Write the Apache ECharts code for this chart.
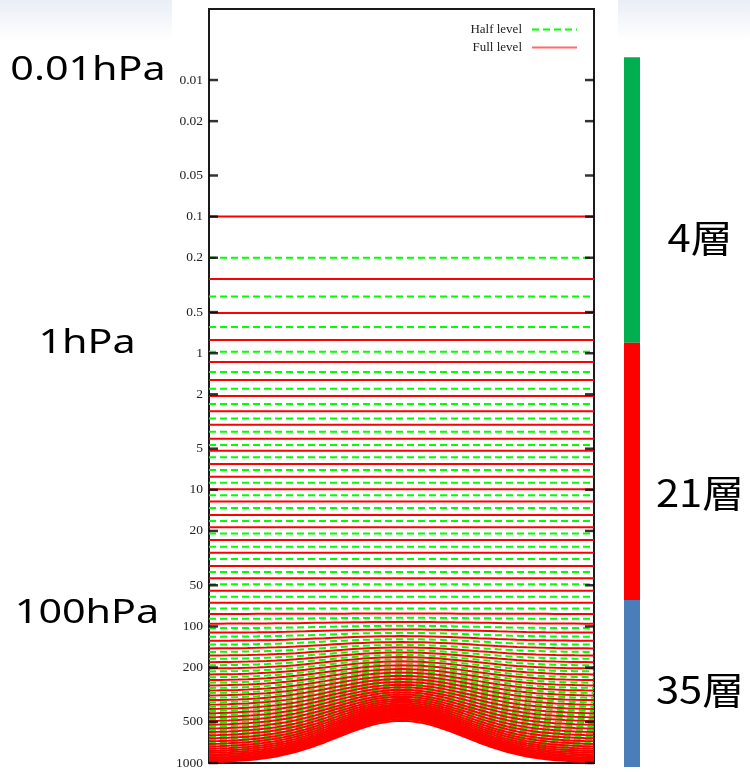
<!DOCTYPE html>
<html>
<head>
<meta charset="utf-8">
<script src="https://cdn.jsdelivr.net/npm/echarts@6/dist/echarts.min.js"></script>
<style>
  html, body { margin: 0; padding: 0; background: #ffffff; }
  #chart { width: 750px; height: 772px; }
</style>
</head>
<body>
<div id="chart"></div>
<script>
// ---------------- data ----------------
const tickValues = [0.01, 0.02, 0.05, 0.1, 0.2, 0.5, 1, 2, 5, 10, 20, 50, 100, 200, 500, 1000];
const tickLabels = ['0.01', '0.02', '0.05', '0.1', '0.2', '0.5', '1', '2', '5', '10', '20', '50', '100', '200', '500', '1000'];

// horizontal grid columns across the section and surface pressure (hPa) at each
const columnX = [0, 1, 2, 3, 4, 5, 6, 7, 8, 9, 10, 11, 12, 13, 14, 15, 16, 17, 18, 19, 20,
                 21, 22, 23, 24, 25, 26, 27, 28, 29, 30, 31, 32, 33, 34, 35, 36, 37, 38, 39, 40];
const surfacePressure = [995, 990, 984, 975, 964, 949, 929, 905, 875, 841, 802, 760, 717, 673, 632, 594, 561, 535, 516, 504, 500,
                         504, 516, 535, 561, 594, 632, 673, 717, 760, 802, 841, 875, 905, 929, 949, 964, 975, 984, 990, 995];
const referenceSurface = 1000;

// full levels: pressure (hPa) where surface = 1000 hPa, and hybrid B coefficient
const fullLevelP = [0.1, 0.286, 0.508, 0.80, 1.16, 1.57, 2.06, 2.66, 3.34, 4.22, 5.17, 6.47, 8.02, 9.92, 12.2, 15.3, 18.8, 23.3, 28.9, 36.1, 44.5, 54.8, 67, 81,
  95.5, 111, 127.5, 145, 163.5, 183, 203.5, 225, 247.5, 271, 295.5, 321, 347.5, 375, 403.5, 433, 463.5, 495, 527.5, 561, 595, 629, 663, 696.5, 729, 760.5, 791, 820, 847, 872, 895.5, 917.5, 937.5, 955.5, 971.5, 989.5];
const fullLevelB = [0, 0, 0, 0, 0, 0, 0, 0, 0, 0, 0, 0, 0, 0, 0, 0, 0, 0, 0, 0, 0, 0, 0, 0.001,
  0.0055, 0.0115, 0.0195, 0.0295, 0.0415, 0.0555, 0.0715, 0.0895, 0.1095, 0.1315, 0.1555, 0.1815, 0.2095, 0.24, 0.273, 0.308, 0.345, 0.384, 0.425, 0.468, 0.5125, 0.558, 0.604, 0.65, 0.6955, 0.74, 0.783, 0.8235, 0.8605, 0.8935, 0.9225, 0.947, 0.9665, 0.9815, 0.992, 0.998];

// half levels
const halfLevelP = [0.2, 0.385, 0.643, 0.975, 1.37, 1.82, 2.35, 3.0, 3.76, 4.7, 5.78, 7.16, 8.87, 10.97, 13.6, 16.9, 20.9, 26.1, 32.1, 40, 49.2, 60.6, 74.1,
  88, 103, 119, 136, 154, 173, 193, 214, 236, 259, 283, 308, 334, 361, 389, 418, 448, 479, 511, 544, 578, 612, 646, 680, 713, 745, 776, 806, 834, 860, 884, 907, 928, 947, 964, 979];
const halfLevelB = [0, 0, 0, 0, 0, 0, 0, 0, 0, 0, 0, 0, 0, 0, 0, 0, 0, 0, 0, 0, 0, 0, 0,
  0.003, 0.008, 0.015, 0.024, 0.035, 0.048, 0.063, 0.080, 0.099, 0.120, 0.143, 0.168, 0.195, 0.224, 0.256, 0.290, 0.326, 0.364, 0.404, 0.446, 0.490, 0.535, 0.581, 0.627, 0.673, 0.718, 0.762, 0.804, 0.843, 0.878, 0.909, 0.936, 0.958, 0.975, 0.988, 0.996];

// side annotation: layer block boundaries (hPa) and their layer counts
const layerBounds = [0.0068, 0.84, 64, 1072];
const layerNames = ['4層', '21層', '35層'];
const pressureNotes = ['0.01hPa', '1hPa', '100hPa'];

// ---------------- build ----------------
const lg = Math.log10;
function levelLine(p, b) {
  return columnX.map((x, i) => [x, lg(p - b * (referenceSurface - surfacePressure[i]))]);
}

const series = [];
halfLevelP.forEach((p, k) => {
  series.push({
    type: 'line', name: 'Half level', xAxisIndex: 0, yAxisIndex: 0,
    data: levelLine(p, halfLevelB[k]),
    symbol: 'none', showSymbol: false, silent: true, z: 2,
    lineStyle: { color: '#00ff00', width: 2, type: [7, 4] },
    itemStyle: { color: '#00ff00' }
  });
});
fullLevelP.forEach((p, k) => {
  series.push({
    type: 'line', name: 'Full level', xAxisIndex: 0, yAxisIndex: 0,
    data: levelLine(p, fullLevelB[k]),
    symbol: 'none', showSymbol: false, silent: true, z: 3,
    lineStyle: { color: '#ff0000', width: 2 },
    itemStyle: { color: '#ff0000' }
  });
});

const tickPos = tickValues.map(lg);
// axis tick marks on both sides of the frame, pointing inward
series.push({
  type: 'scatter', name: 'ticksL', xAxisIndex: 0, yAxisIndex: 0, silent: true, z: 4,
  data: tickPos.map(v => [columnX[0], v]),
  symbol: 'rect', symbolSize: [9, 2.5], symbolOffset: [4.5, 0],
  itemStyle: { color: '#000' }
});
series.push({
  type: 'scatter', name: 'ticksR', xAxisIndex: 0, yAxisIndex: 0, silent: true, z: 4,
  data: tickPos.map(v => [columnX[columnX.length - 1], v]),
  symbol: 'rect', symbolSize: [9, 2.5], symbolOffset: [-4.5, 0],
  itemStyle: { color: '#000' }
});

const layerColors = ['#00b050', '#ff0000', '#4a7ebb'];
series.push({
  type: 'custom', name: 'layers', xAxisIndex: 1, yAxisIndex: 1, silent: true,
  data: layerNames.map((n, i) => ({ name: n, value: [lg(layerBounds[i]), lg(layerBounds[i + 1])], itemStyle: { color: layerColors[i] } })),
  renderItem: function (params, api) {
    const y0 = api.coord([0, api.value(0)])[1];
    const y1 = api.coord([0, api.value(1)])[1];
    const cs = params.coordSys;
    return { type: 'rect', shape: { x: cs.x, y: y0, width: cs.width, height: y1 - y0 }, style: { fill: api.visual('color') } };
  }
});

const yMin = -2.52, yMax = 3;
function labelFor(v) {
  const i = tickPos.findIndex(t => Math.abs(t - v) < 1e-6);
  return i >= 0 ? tickLabels[i] : '';
}

const serif = 'Liberation Serif';
const hiddenSymbol = { color: 'rgba(0,0,0,0)', opacity: 0, borderWidth: 0 };
const option = {
  animation: false,
  backgroundColor: '#ffffff',
  grid: [
    { left: 209, right: 156, top: 9, bottom: 9, show: true, borderColor: '#1a1a1a', borderWidth: 2, backgroundColor: '#ffffff' },
    { left: 624, width: 16, top: 9, bottom: 9 }
  ],
  xAxis: [
    { type: 'value', gridIndex: 0, min: 0, max: 40, show: false },
    { type: 'value', gridIndex: 1, min: 0, max: 1, show: false }
  ],
  yAxis: [
    {
      type: 'value', gridIndex: 0, min: yMin, max: yMax, inverse: true, position: 'left',
      splitLine: { show: false }, axisLine: { show: false }, axisTick: { show: false },
      axisLabel: { show: true, customValues: tickPos, formatter: labelFor, margin: 6, fontFamily: serif, fontSize: 13.5, color: '#222' }
    },
    { type: 'value', gridIndex: 1, min: yMin, max: yMax, inverse: true, show: false }
  ],
  legend: {
    data: [
      { name: 'Half level', itemStyle: hiddenSymbol },
      { name: 'Full level', itemStyle: hiddenSymbol, lineStyle: { color: '#ff6a6a', width: 2 } }
    ],
    orient: 'vertical', right: 167, top: 18, align: 'right',
    itemWidth: 45, itemHeight: 12, itemGap: 5,
    selectedMode: false,
    itemStyle: hiddenSymbol,
    textStyle: { fontFamily: serif, fontSize: 13, color: '#222', padding: [0, 5, 0, 0] }
  },
  graphic: [
    { type: 'rect', left: 0, top: 0, z: -10, shape: { width: 172, height: 40 },
      style: { fill: new echarts.graphic.LinearGradient(0, 0, 0, 1, [{ offset: 0, color: '#e9eef6' }, { offset: 1, color: '#ffffff' }]) } },
    { type: 'rect', left: 618, top: 0, z: -10, shape: { width: 132, height: 40 },
      style: { fill: new echarts.graphic.LinearGradient(0, 0, 0, 1, [{ offset: 0, color: '#e9eef6' }, { offset: 1, color: '#ffffff' }]) } },
    { type: 'text', x: 88, y: 71, scaleX: 1.25, style: { text: pressureNotes[0], x: 0, y: 0, align: 'center', verticalAlign: 'middle', font: '33px "Noto Sans"', fill: '#000' } },
    { type: 'text', x: 87, y: 344, scaleX: 1.25, style: { text: pressureNotes[1], x: 0, y: 0, align: 'center', verticalAlign: 'middle', font: '33px "Noto Sans"', fill: '#000' } },
    { type: 'text', x: 87, y: 614, scaleX: 1.25, style: { text: pressureNotes[2], x: 0, y: 0, align: 'center', verticalAlign: 'middle', font: '33px "Noto Sans"', fill: '#000' } },
    { type: 'text', x: 700, y: 238, scaleX: 1.1, style: { text: layerNames[0], x: 0, y: 0, align: 'center', verticalAlign: 'middle', font: '38px "Noto Sans CJK JP"', fill: '#000' } },
    { type: 'text', x: 700, y: 493, scaleX: 1.1, style: { text: layerNames[1], x: 0, y: 0, align: 'center', verticalAlign: 'middle', font: '38px "Noto Sans CJK JP"', fill: '#000' } },
    { type: 'text', x: 700, y: 690, scaleX: 1.1, style: { text: layerNames[2], x: 0, y: 0, align: 'center', verticalAlign: 'middle', font: '38px "Noto Sans CJK JP"', fill: '#000' } }
  ],
  series: series
};

const chart = echarts.init(document.getElementById('chart'), null, { renderer: 'canvas' });
chart.setOption(option);
</script>
</body>
</html>
